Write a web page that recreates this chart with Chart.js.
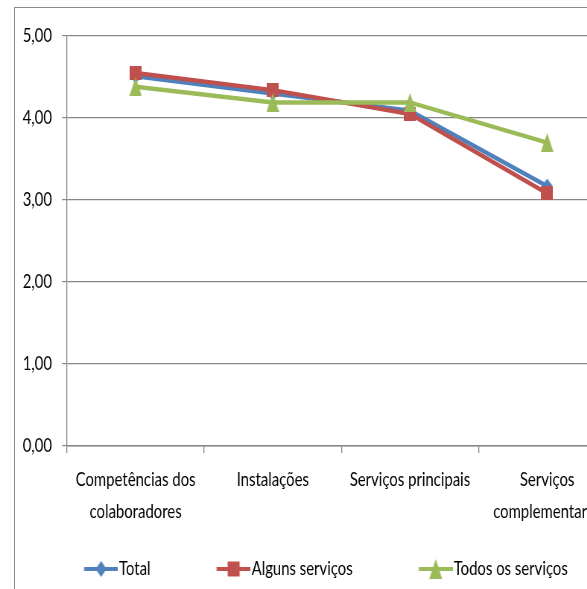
<!DOCTYPE html>
<html>
<head>
<meta charset="utf-8">
<script src="https://cdn.jsdelivr.net/npm/chart.js@4/dist/chart.umd.min.js"></script>
<style>
  html, body { margin: 0; padding: 0; background: #fff; overflow: hidden; width: 587px; height: 589px; }
  #frame { position: absolute; left: 14px; top: 7px; width: 800px; height: 800px;
           border-left: 1px solid #8a8a8a; border-top: 1px solid #8a8a8a; }
  #c { position: absolute; left: 0; top: 0; transform-origin: 0 0; }
</style>
</head>
<body>
<div id="frame"></div>
<canvas id="c"></canvas>
<script>
// Satisfaction scores per service area
const categories = [["Competências dos", "colaboradores"], "Instalações", "Serviços principais", ["Serviços", "complementares"]];
const seriesNames = ["Total", "Alguns serviços", "Todos os serviços"];
const totalValues  = [4.51, 4.30, 4.09, 3.17];
const algunsValues = [4.55, 4.34, 4.05, 3.08];
const todosValues  = [4.38, 4.19, 4.19, 3.70];
const yTicks = [0, 1, 2, 3, 4, 5];

const colors = ['#4F81BD', '#C0504D', '#9BBB59'];
const FONT = "Lato, 'Open Sans', sans-serif";
const FONT_SIZE = 20;

// The drawing uses a condensed look: the canvas is laid out wider and squeezed horizontally.
const SX = 0.745;
const hx = v => v / SX;          // horizontal screen px -> canvas px
const VIEW_W = 640, VIEW_H = 589;

const canvas = document.getElementById('c');
canvas.width = Math.ceil(hx(VIEW_W));
canvas.height = VIEW_H;
canvas.style.transform = 'scaleX(' + SX + ')';

const shapes = [
  { kind: 'diamond',  w: 11, h: 15 },
  { kind: 'square',   w: 12, h: 14 },
  { kind: 'triangle', w: 13, h: 19 }
];

function drawShape(g, kind, cx, cy, w, h) {
  g.beginPath();
  if (kind === 'diamond') {
    g.moveTo(cx, cy - h / 2); g.lineTo(cx + w / 2, cy); g.lineTo(cx, cy + h / 2); g.lineTo(cx - w / 2, cy);
  } else if (kind === 'square') {
    g.rect(cx - w / 2, cy - h / 2, w, h);
  } else {
    g.moveTo(cx, cy - h / 2); g.lineTo(cx + w / 2, cy + h / 2); g.lineTo(cx - w / 2, cy + h / 2);
  }
  g.closePath();
  g.fill();
}

// point marker images
function markerImage(shape, color) {
  const c = document.createElement('canvas');
  const w = Math.round(hx(shape.w));
  c.width = w; c.height = shape.h;
  const g = c.getContext('2d');
  g.fillStyle = color;
  drawShape(g, shape.kind, w / 2, shape.h / 2, w, shape.h);
  return c;
}

// legend symbol: short line with its marker, sitting at the right end of the box
const LEG_PAD = 10;
const LEG_BOX = hx(101) - FONT_SIZE / 2 - LEG_PAD;
function legendImage(shape, color) {
  const c = document.createElement('canvas');
  const w = Math.round(LEG_BOX + FONT_SIZE - 2 * hx(1)), h = 22, seg = hx(34);
  c.width = w; c.height = h;
  const g = c.getContext('2d');
  g.fillStyle = color;
  g.fillRect(w - seg, h / 2 - 2, seg, 4);
  drawShape(g, shape.kind, w - seg / 2, h / 2, hx(shape.w), shape.h + 1);
  return c;
}

const markers = shapes.map((s, i) => markerImage(s, colors[i]));
const legendSymbols = shapes.map((s, i) => legendImage(s, colors[i]));
const seriesValues = [totalValues, algunsValues, todosValues];

const datasets = seriesNames.map((name, i) => ({
  label: name,
  data: seriesValues[i],
  borderColor: colors[i],
  backgroundColor: colors[i],
  borderWidth: 4.5,
  pointStyle: markers[i],
  pointRadius: 6,
  pointHoverRadius: 6,
  tension: 0,
  fill: false,
  order: seriesNames.length - i
}));

const tickFont = { family: FONT, size: FONT_SIZE };

new Chart(canvas, {
  type: 'line',
  data: { labels: categories, datasets: datasets },
  options: {
    responsive: false,
    animation: false,
    events: [],
    layout: { padding: { top: 36, left: hx(18), right: hx(VIEW_W - 615), bottom: 0 } },
    scales: {
      x: {
        offset: true,
        grid: { offset: true, drawOnChartArea: false, drawTicks: true, tickLength: 7, color: '#868686', lineWidth: 1.3 },
        border: { color: '#868686', width: 1.6 },
        ticks: { color: '#000', font: { family: FONT, size: FONT_SIZE, lineHeight: 32 / FONT_SIZE }, padding: 11, maxRotation: 0, autoSkip: false },
        afterFit: s => { s.height = 103; }
      },
      y: {
        min: 0, max: 5,
        afterBuildTicks: s => { s.ticks = yTicks.map(v => ({ value: v })); },
        grid: { color: '#868686', lineWidth: 1.2, tickLength: hx(5) },
        border: { color: '#868686', width: 1.3 },
        ticks: { color: '#000', font: tickFont, padding: hx(10), callback: v => Number(v).toFixed(2).replace('.', ',') },
        afterFit: s => { s.width = hx(49); }
      }
    },
    plugins: {
      tooltip: { enabled: false },
      legend: {
        position: 'bottom',
        align: 'start',
        labels: {
          color: '#000',
          font: tickFont,
          usePointStyle: true,
          pointStyleWidth: LEG_BOX,
          padding: LEG_PAD,
          sort: (a, b) => a.datasetIndex - b.datasetIndex,
          generateLabels: chart => Chart.defaults.plugins.legend.labels.generateLabels(chart)
            .map(item => Object.assign(item, { pointStyle: legendSymbols[item.datasetIndex] }))
        }
      }
    }
  }
});
</script>
</body>
</html>
